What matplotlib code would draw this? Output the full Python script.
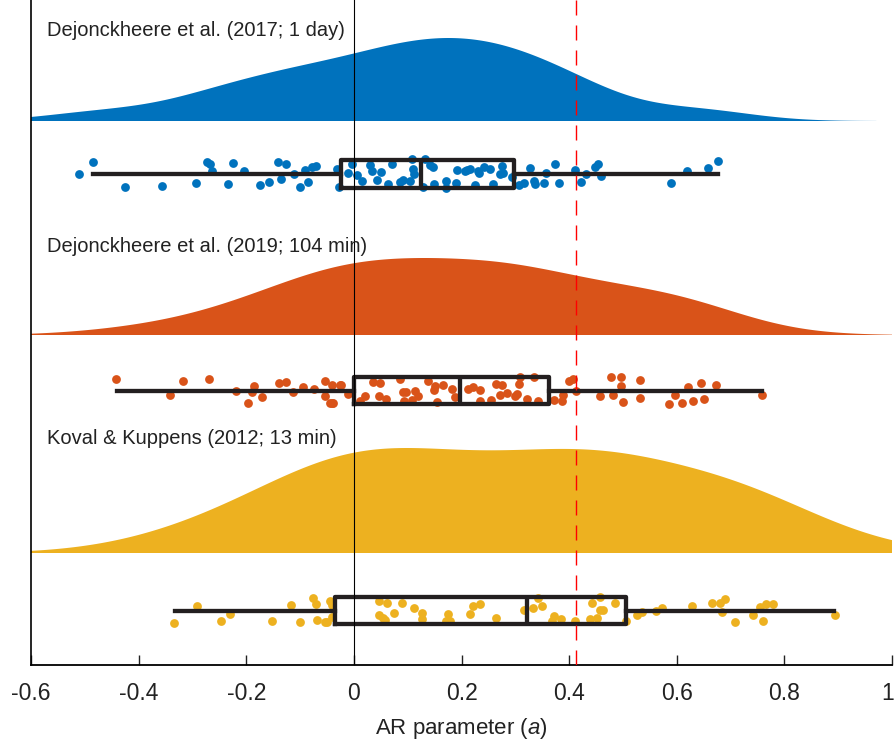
import numpy as np
import matplotlib.pyplot as plt
from matplotlib.transforms import ScaledTranslation

plt.rcParams['font.family'] = ['Liberation Sans', 'DejaVu Sans']
plt.rcParams['mathtext.fontset'] = 'custom'
plt.rcParams['mathtext.rm'] = 'Liberation Sans'
plt.rcParams['mathtext.it'] = 'Liberation Sans:italic'

# study labels and colours (MATLAB default palette)
labels = ['Dejonckheere et al. (2017; 1 day)',
          'Dejonckheere et al. (2019; 104 min)',
          'Koval & Kuppens (2012; 13 min)']
colors = ['#0072BD', '#D95319', '#EDB120']

# AR estimates, with their vertical jitter (px, + = down)
blue_vals = [-0.510, -0.484, -0.426, -0.357, -0.293, -0.273, -0.267, -0.264, -0.234, -0.225,
             -0.205, -0.175, -0.158, -0.141, -0.136, -0.127, -0.111, -0.100, -0.090, -0.086,
             -0.078, -0.070, -0.032, -0.027, -0.011, -0.004, 0.005, 0.015, 0.030, 0.034,
             0.043, 0.051, 0.063, 0.070, 0.086, 0.091, 0.104, 0.108, 0.110, 0.112,
             0.129, 0.132, 0.142, 0.147, 0.149, 0.171, 0.172, 0.190, 0.192, 0.207,
             0.211, 0.216, 0.225, 0.231, 0.233, 0.241, 0.253, 0.259, 0.272, 0.275,
             0.278, 0.293, 0.306, 0.316, 0.327, 0.334, 0.337, 0.354, 0.357, 0.373,
             0.382, 0.411, 0.422, 0.431, 0.448, 0.453, 0.459, 0.589, 0.619, 0.659, 0.677]
blue_jit = [0, -12, 13, 12, 9, -12, -10, -3, 10, -11,
            -3, 11, 8, -12, 5, -10, 0, 13, -4, 8,
            -7, -8, -5, 13, -1, -10, 1, 7, -9, -3,
            6, -2, 10, -10, 8, 6, 7, -15, -5, 0,
            13, -15, -9, -7, 10, 7, 14, 9, -4, -3,
            -4, -5, 11, -3, -1, -7, -5, 10, 0, -8,
            -1, 3, 11, 9, -6, 7, 10, 9, -1, -10,
            9, -4, 8, 0, -7, -10, 2, 9, -3, -6, -13]

orange_vals = [-0.442, -0.342, -0.317, -0.269, -0.219, -0.196, -0.190, -0.186, -0.171, -0.139,
               -0.126, -0.114, -0.094, -0.075, -0.054, -0.054, -0.045, -0.041, -0.038, -0.040,
               -0.026, -0.024, -0.010, 0.012, 0.021, 0.035, 0.049, 0.047, 0.059, 0.086,
               0.092, 0.097, 0.093, 0.108, 0.114, 0.120, 0.138, 0.149, 0.151, 0.166,
               0.154, 0.182, 0.188, 0.213, 0.222, 0.235, 0.235, 0.254, 0.265, 0.275,
               0.272, 0.284, 0.300, 0.303, 0.309, 0.306, 0.321, 0.334, 0.343, 0.372,
               0.386, 0.389, 0.400, 0.408, 0.413, 0.458, 0.478, 0.481, 0.497, 0.497,
               0.500, 0.532, 0.532, 0.585, 0.597, 0.609, 0.620, 0.630, 0.645, 0.651,
               0.673, 0.758]
orange_jit = [-11.5, 4.5, -10, -12, 0, 12, 1, -5, 6, -8,
              -9, 1, -4, -2, -10, 5, 12, 12, 12, -6,
              -6, -6, 3, 10, 5, -9, -8, 5, 8, -12,
              1, 1, 10, 9, 0, 5, -10, -1, -5, -6,
              11, -2, 6, -2, -4, -1, 10, 9, -7, -6,
              4, 2, 5, 3, -14, -7, 8, -14, 10, 9.5,
              10, 4.5, -10, -11.5, 0, 5.5, -14, 4.5, -14, -4.5,
              11, -11, 7, 13, 4.5, 12, -4, 10.5, -8, 8,
              -5.5, 4]

yellow_vals = [-0.334, -0.291, -0.247, -0.230, -0.153, -0.116, -0.101, -0.076, -0.071, -0.069,
               -0.054, -0.050, -0.044, -0.041, -0.041, 0.047, 0.062, 0.089, 0.046, 0.055,
               0.058, 0.075, 0.112, 0.126, 0.126, 0.174, 0.172, 0.179, 0.215, 0.222,
               0.235, 0.264, 0.316, 0.333, 0.343, 0.349, 0.371, 0.368, 0.385, 0.411,
               0.438, 0.442, 0.451, 0.458, 0.463, 0.458, 0.486, 0.506, 0.526, 0.535,
               0.562, 0.572, 0.628, 0.665, 0.681, 0.690, 0.684, 0.709, 0.741, 0.754,
               0.766, 0.779, 0.761, 0.894]
yellow_jit = [12, -4.5, 10, 3, 10.5, -5.5, 11, -13, -7, 9.5,
              11, 11, -10, -5.5, 6, -10, -8, -8, 4, 7,
              9.5, 2, -3, 2, 8, 3.5, 10, 10, 3, -5,
              -6.5, 7, -1, -3, -13, -4.5, 5.5, 10, 8, 10,
              8, -8, 7, -1, -1, -14, -8, 10, 4.5, 1,
              0, -3, -4.5, -8, -8, -12, 1, 11, 4, -4,
              -6.5, -6.5, 10.5, 4.5]

# box statistics: lower whisker, q1, median, q3, upper whisker
blue_box = [-0.484, -0.024, 0.124, 0.298, 0.677]
orange_box = [-0.440, 0.001, 0.197, 0.362, 0.758]
yellow_box = [-0.332, -0.035, 0.321, 0.506, 0.893]

ar_fixed = 0.413  # red dashed reference

groups = [(blue_vals, blue_jit, blue_box),
          (orange_vals, orange_jit, orange_box),
          (yellow_vals, yellow_jit, yellow_box)]

# layout (axes y units are pixels from the bottom of the axes)
dens_base = [544, 330, 112]
dens_peak = [83, 77, 105]
bandwidth = [0.098, 0.11, 0.15]
box_y = [491, 274.5, 54.5]
label_y = [635, 418, 227]
box_h = 27.5
ink = '#231f20'


def kde(vals, h):
    v = np.asarray(vals)
    grid = np.linspace(v.min() - 3 * h, v.max() + 3 * h, 300)
    d = np.exp(-0.5 * ((grid[:, None] - v[None, :]) / h) ** 2).sum(axis=1)
    return grid, d / d.max()


fig = plt.figure(figsize=(8.96, 7.45), dpi=100)
ax = fig.add_axes([31 / 896, 80 / 745, 861 / 896, 665 / 745])

for i, (vals, jit, bx) in enumerate(groups):
    c = colors[i]
    grid, d = kde(vals, bandwidth[i])
    ax.fill_between(grid, dens_base[i], dens_base[i] + d * dens_peak[i],
                    color=c, lw=0, zorder=1)
    ys = box_y[i] - np.asarray(jit)
    ax.scatter(vals, ys, s=40, color=c, lw=0, zorder=2)
    stats = [dict(whislo=bx[0], q1=bx[1], med=bx[2], q3=bx[3], whishi=bx[4])]
    ax.bxp(stats, positions=[box_y[i]], widths=box_h, orientation='horizontal',
           showcaps=False, showfliers=False, manage_ticks=False,
           boxprops=dict(color=ink, lw=3.1),
           whiskerprops=dict(color=ink, lw=3.1),
           medianprops=dict(color=ink, lw=3.1),
           zorder=3)
    ax.text(-0.57, label_y[i], labels[i], fontsize=14.5, color='#222222',
            ha='left', va='center', zorder=5)

ax.axvline(0, color='black', lw=0.8, zorder=4)
ax.axvline(ar_fixed, color='red', lw=1, dashes=(10.8, 7.2), zorder=4)

ax.set_xlim(-0.6, 1)
ax.set_ylim(0, 665)
ax.set_xticks(np.arange(-0.6, 1.01, 0.2))
ax.set_xticklabels(['-0.6', '-0.4', '-0.2', '0', '0.2', '0.4', '0.6', '0.8', '1'])
ax.set_yticks([])
ax.tick_params(axis='x', direction='in', length=7, width=1, labelsize=16.5, pad=12,
               colors='#222222')
# keep the last tick label inside the figure edge
last = ax.get_xticklabels()[-1]
last.set_transform(last.get_transform() + ScaledTranslation(-4 / 100, 0, fig.dpi_scale_trans))
for s in ['top', 'right']:
    ax.spines[s].set_visible(False)
ax.spines['left'].set_linewidth(1.2)
ax.spines['bottom'].set_linewidth(1.3)
ax.set_xlabel('AR parameter ($a$)', fontsize=16, labelpad=8, color='#222222')

fig.savefig('out.png', dpi=100)
